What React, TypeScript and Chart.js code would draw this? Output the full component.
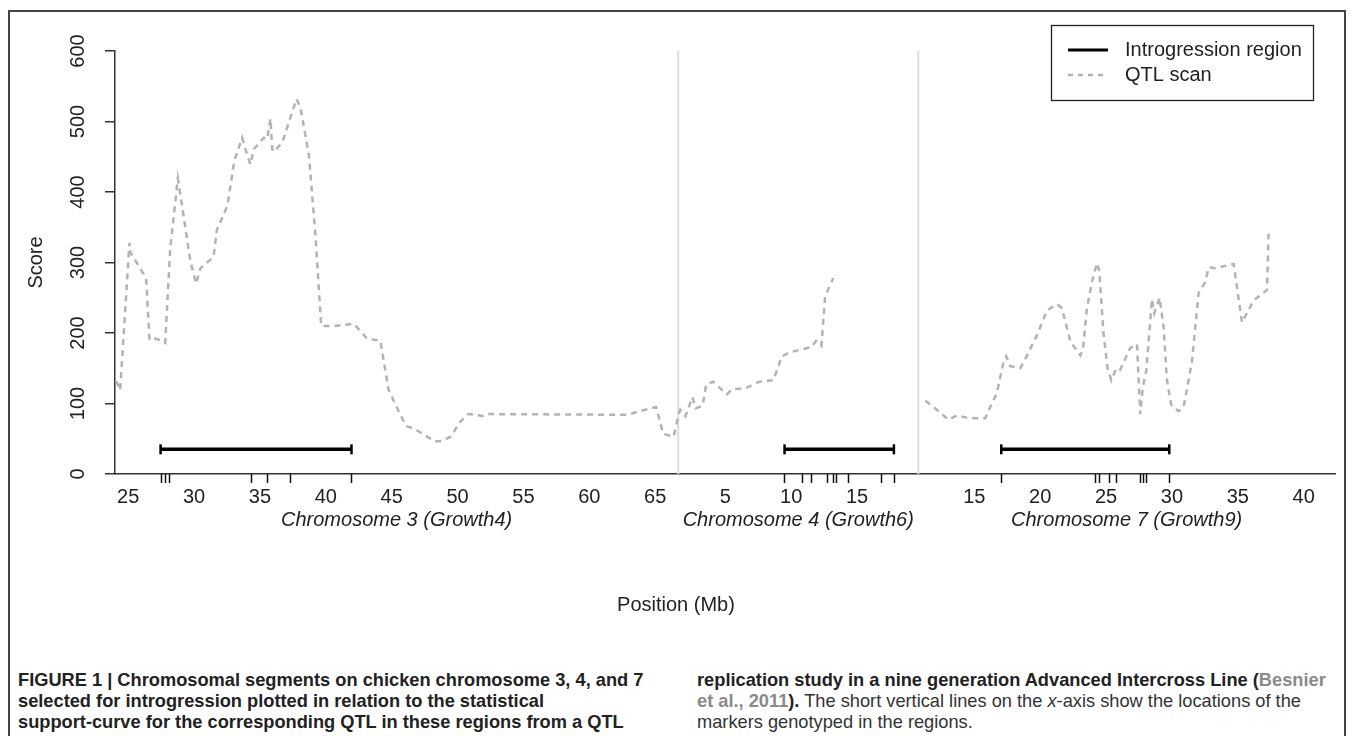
import React, { useEffect, useRef } from "react";
import { Chart, registerables } from "chart.js";

Chart.register(...registerables);

const FONT = "'Liberation Sans', Arial, Helvetica, sans-serif";
const CAP_FONT = "'Liberation Sans Narrow', 'Arial Narrow', 'Liberation Sans', sans-serif";

// Chromosome extents shown on the combined axis (Mb)
const CHR_START = [24.0, 1.43, 10.75];
const CHR_END = [66.75, 19.65, 42.38];
const CHR_NAMES = ["Chromosome 3 (Growth4)", "Chromosome 4 (Growth6)", "Chromosome 7 (Growth9)"];

// Tick labels (Mb) per chromosome
const chr3Ticks = [25, 30, 35, 40, 45, 50, 55, 60, 65];
const chr4Ticks = [5, 10, 15];
const chr7Ticks = [15, 20, 25, 30, 35, 40];
const yTicks = [0, 100, 200, 300, 400, 500, 600];

// QTL scan, chromosome 3
const chr3Pos = [24.09, 24.39, 25.10, 25.15, 26.16, 26.37, 26.62, 27.05, 27.43, 27.81,
  28.19, 28.77, 28.97, 29.73, 30.16, 30.49, 31.48, 31.73, 32.54, 33.05,
  33.65, 34.04, 34.28, 34.54, 35.30, 35.55, 35.80, 35.93, 36.05, 36.69,
  37.78, 38.08, 38.72, 39.22, 39.65, 40.61, 42.13, 43.14, 44.14, 44.77,
  45.66, 46.10, 46.75, 47.50, 48.30, 48.80, 49.50, 50.15, 50.80, 51.50,
  51.85, 52.20, 62.97, 63.60, 65.07, 65.60, 66.40];
const chr3Score = [132, 119, 328, 315, 284, 275, 190, 192, 190, 186,
  319, 419, 395, 301, 270, 292, 308, 346, 381, 444,
  477, 452, 439, 461, 477, 475, 504, 461, 457, 470,
  532, 519, 452, 337, 210, 210, 213, 192, 189, 119,
  84, 68, 64, 55, 46, 47, 53, 73, 85, 84,
  82, 85, 84, 88, 95, 57, 53];

// QTL scan, chromosome 4
const chr4Pos = [1.45, 1.58, 1.98, 2.50, 2.76, 3.28, 3.55, 4.07, 5.12, 5.50,
  6.56, 7.60, 8.65, 9.30, 9.96, 11.53, 11.90, 12.30, 12.58, 13.20];
const chr4Score = [84, 91, 82, 109, 93, 97, 127, 131, 113, 120,
  122, 131, 133, 167, 173, 180, 189, 182, 252, 278];

// QTL scan, chromosome 7
const chr7Pos = [11.28, 11.91, 13.05, 13.69, 14.45, 15.20, 15.83, 16.21, 16.72, 17.22,
  17.43, 17.73, 18.49, 19.00, 19.76, 20.52, 21.28, 21.66, 22.29, 23.05,
  23.25, 23.55, 23.93, 24.31, 24.49, 24.81, 25.12, 25.40, 25.78, 26.08,
  26.84, 27.35, 27.60, 27.80, 28.05, 28.49, 28.66, 29.07, 29.37, 29.63,
  29.93, 30.50, 30.89, 31.52, 32.03, 32.53, 32.79, 33.30, 34.69, 35.32,
  36.20, 37.22, 37.34];
const chr7Score = [104, 95, 77, 83, 80, 79, 79, 95, 115, 159,
  167, 153, 150, 168, 197, 232, 241, 235, 188, 168,
  177, 235, 272, 299, 288, 199, 150, 133, 150, 148,
  179, 184, 85, 124, 146, 248, 228, 250, 208, 133,
  99, 89, 95, 159, 257, 272, 293, 292, 298, 215,
  246, 261, 341];

// Introgression regions (start, end Mb) and the score level they are drawn at
const chr3Region = [27.46, 41.95];
const chr4Region = [9.5, 17.8];
const chr7Region = [17.05, 29.8];
const REGION_SCORE = 35;

// Marker positions (Mb)
const chr3Markers = [27.46, 27.8, 28.12, 34.3, 35.5, 37.3, 41.95];
const chr4Markers = [9.47, 10.8, 11.47, 12.75, 13.15, 13.42, 14.3, 16.85, 17.8];
const chr7Markers = [17.05, 24.2, 24.45, 25.2, 25.76, 27.6, 27.8, 28.05, 29.8];

// offsets that place the three chromosomes on one combined axis
const OFF = [0, CHR_END[0] - CHR_START[1], 0];
OFF[2] = OFF[1] + CHR_END[1] - CHR_START[2];
const X_MIN = CHR_START[0];
const X_MAX = OFF[2] + CHR_END[2];
const SEPARATORS = [CHR_END[0] + OFF[0], CHR_END[1] + OFF[1]];

const tickGlobal: number[] = [];
const tickText: string[] = [];
[chr3Ticks, chr4Ticks, chr7Ticks].forEach((arr, c) =>
  arr.forEach((v) => {
    tickGlobal.push(v + OFF[c]);
    tickText.push(String(v));
  })
);

const pts = (pos: number[], sc: number[], off: number) =>
  pos.map((p, i) => ({ x: p + off, y: sc[i] as number | null }));

const scanData = [
  ...pts(chr3Pos, chr3Score, OFF[0]),
  ...pts(chr4Pos, chr4Score, OFF[1]),
  { x: SEPARATORS[1], y: null },
  ...pts(chr7Pos, chr7Score, OFF[2]),
];

const regionData: { x: number; y: number | null }[] = [];
[chr3Region, chr4Region, chr7Region].forEach((r, c) => {
  regionData.push({ x: r[0] + OFF[c], y: REGION_SCORE });
  regionData.push({ x: r[1] + OFF[c], y: REGION_SCORE });
  regionData.push({ x: r[1] + OFF[c] + 0.5, y: null });
});

const markerGlobal: number[] = [];
[chr3Markers, chr4Markers, chr7Markers].forEach((arr, c) =>
  arr.forEach((m) => markerGlobal.push(m + OFF[c]))
);

const extrasPlugin = {
  id: "figureExtras",
  beforeDatasetsDraw(chart: any) {
    const { ctx, chartArea, scales } = chart;
    const x = scales.x;
    ctx.save();
    ctx.strokeStyle = "#dedede";
    ctx.lineWidth = 2;
    SEPARATORS.forEach((s) => {
      const px = x.getPixelForValue(s);
      ctx.beginPath();
      ctx.moveTo(px, chartArea.top);
      ctx.lineTo(px, chartArea.bottom);
      ctx.stroke();
    });
    ctx.restore();
  },
  afterDraw(chart: any) {
    const { ctx, chartArea, scales } = chart;
    const x = scales.x;
    ctx.save();
    // marker ticks below the axis
    ctx.strokeStyle = "#111";
    ctx.lineWidth = 1.5;
    markerGlobal.forEach((m) => {
      const px = Math.round(x.getPixelForValue(m)) + 0.5;
      ctx.beginPath();
      ctx.moveTo(px, chartArea.bottom);
      ctx.lineTo(px, chartArea.bottom + 9);
      ctx.stroke();
    });
    // chromosome labels
    ctx.fillStyle = "#222";
    ctx.font = `italic 20px ${FONT}`;
    ctx.textAlign = "center";
    ctx.textBaseline = "middle";
    CHR_NAMES.forEach((n, c) => {
      const mid = (CHR_START[c] + CHR_END[c]) / 2 + OFF[c];
      ctx.fillText(n, x.getPixelForValue(mid), chartArea.bottom + 46);
    });
    // x axis title
    ctx.font = `20px ${FONT}`;
    ctx.fillText("Position (Mb)", 676, chartArea.bottom + 131);

    // legend
    const L = 1051, T = 25, W = 262, H = 75;
    ctx.fillStyle = "#fff";
    ctx.fillRect(L, T, W, H);
    ctx.strokeStyle = "#222";
    ctx.lineWidth = 1.3;
    ctx.strokeRect(L + 0.5, T + 0.5, W, H);
    ctx.lineWidth = 3;
    ctx.strokeStyle = "#000";
    ctx.beginPath();
    ctx.moveTo(1068, T + 25);
    ctx.lineTo(1108, T + 25);
    ctx.stroke();
    ctx.lineWidth = 2.5;
    ctx.strokeStyle = "#b3b3b3";
    ctx.setLineDash([5, 5]);
    ctx.beginPath();
    ctx.moveTo(1068, T + 50);
    ctx.lineTo(1108, T + 50);
    ctx.stroke();
    ctx.setLineDash([]);
    ctx.fillStyle = "#222";
    ctx.textAlign = "left";
    ctx.font = `20px ${FONT}`;
    ctx.fillText("Introgression region", 1125, T + 25);
    ctx.fillText("QTL scan", 1125, T + 50);
    ctx.restore();
  },
};

export default function App() {
  const ref = useRef<HTMLCanvasElement>(null);
  useEffect(() => {
    const canvas = ref.current;
    if (!canvas) return;
    const chart = new Chart(canvas, {
      type: "line",
      data: {
        datasets: [
          {
            label: "QTL scan",
            data: scanData as any,
            borderColor: "#b3b3b3",
            borderWidth: 2.5,
            borderDash: [6, 5],
            pointRadius: 0,
            tension: 0,
            spanGaps: false,
          },
          {
            label: "Introgression region",
            data: regionData as any,
            borderColor: "#000",
            borderWidth: 3.5,
            pointStyle: "line",
            rotation: 90,
            pointRadius: 5,
            pointBorderWidth: 2.5,
            pointBorderColor: "#000",
            pointBackgroundColor: "#000",
            spanGaps: false,
          } as any,
        ],
      },
      options: {
        responsive: false,
        animation: false,
        devicePixelRatio: 1,
        events: [],
        layout: { padding: { left: 8, top: 51, right: 19, bottom: 0 } },
        plugins: { legend: { display: false }, tooltip: { enabled: false } },
        scales: {
          x: {
            type: "linear",
            min: X_MIN,
            max: X_MAX,
            afterBuildTicks: (s: any) => {
              s.ticks = tickGlobal.map((v) => ({ value: v }));
            },
            afterFit: (s: any) => {
              s.height = 146;
            },
            ticks: {
              autoSkip: false,
              maxRotation: 0,
              minRotation: 0,
              padding: 11,
              color: "#222",
              font: { family: FONT, size: 20 },
              callback: (_v: any, i: number) => tickText[i],
            },
            grid: { display: false, drawTicks: false },
            border: { display: true, color: "#333", width: 1.5 },
          },
          y: {
            min: 0,
            max: 600,
            afterBuildTicks: (s: any) => {
              s.ticks = yTicks.map((v) => ({ value: v }));
            },
            afterFit: (s: any) => {
              s.width = 107;
            },
            ticks: {
              minRotation: 90,
              maxRotation: 90,
              crossAlign: "center",
              padding: 10,
              color: "#222",
              font: { family: FONT, size: 20 },
            },
            grid: {
              drawOnChartArea: false,
              drawTicks: true,
              tickLength: 10,
              color: "#333",
              lineWidth: 1.5,
            },
            border: { display: true, color: "#333", width: 1.5 },
            title: {
              display: true,
              text: "Score",
              color: "#222",
              font: { family: FONT, size: 20 },
              padding: { top: 16, bottom: 0 },
            },
          },
        },
      } as any,
      plugins: [extrasPlugin],
    });
    return () => chart.destroy();
  }, []);

  const line = (top: number, left: number): React.CSSProperties => ({
    position: "absolute",
    top,
    left,
    whiteSpace: "nowrap",
    fontFamily: CAP_FONT,
    fontSize: 19,
    lineHeight: "21px",
    color: "#222",
    transform: "scaleX(0.96)",
    transformOrigin: "0 0",
  });
  const gray: React.CSSProperties = { color: "#8a8a8a", fontWeight: 700 };

  return (
    <div
      style={{
        position: "absolute",
        left: 0,
        top: 0,
        width: 1354,
        height: 736,
        overflow: "hidden",
        background: "#fff",
      }}
    >
      <div
        style={{
          position: "absolute",
          left: 8,
          top: 10,
          width: 1338,
          height: 800,
          border: "2px solid #444",
          boxSizing: "border-box",
        }}
      />
      <canvas
        ref={ref}
        width={1354}
        height={620}
        style={{ position: "absolute", left: 0, top: 0, width: 1354, height: 620 }}
      />
      <div style={{ ...line(669, 18), fontWeight: 700 }}>
        FIGURE 1 | Chromosomal segments on chicken chromosome 3, 4, and 7
      </div>
      <div style={{ ...line(690, 18), fontWeight: 700 }}>
        selected for introgression plotted in relation to the statistical
      </div>
      <div style={{ ...line(711, 18), fontWeight: 700 }}>
        support-curve for the corresponding QTL in these regions from a QTL
      </div>
      <div style={{ ...line(669, 697), fontWeight: 700 }}>
        replication study in a nine generation Advanced Intercross Line (<span style={gray}>Besnier</span>
      </div>
      <div style={{ ...line(690, 697), color: "#333" }}>
        <span style={gray}>et al., 2011</span>
        <b style={{ color: "#222" }}>).</b> The short vertical lines on the <i>x</i>-axis show the locations of the
      </div>
      <div style={{ ...line(711, 697), color: "#333" }}>markers genotyped in the regions.</div>
    </div>
  );
}
